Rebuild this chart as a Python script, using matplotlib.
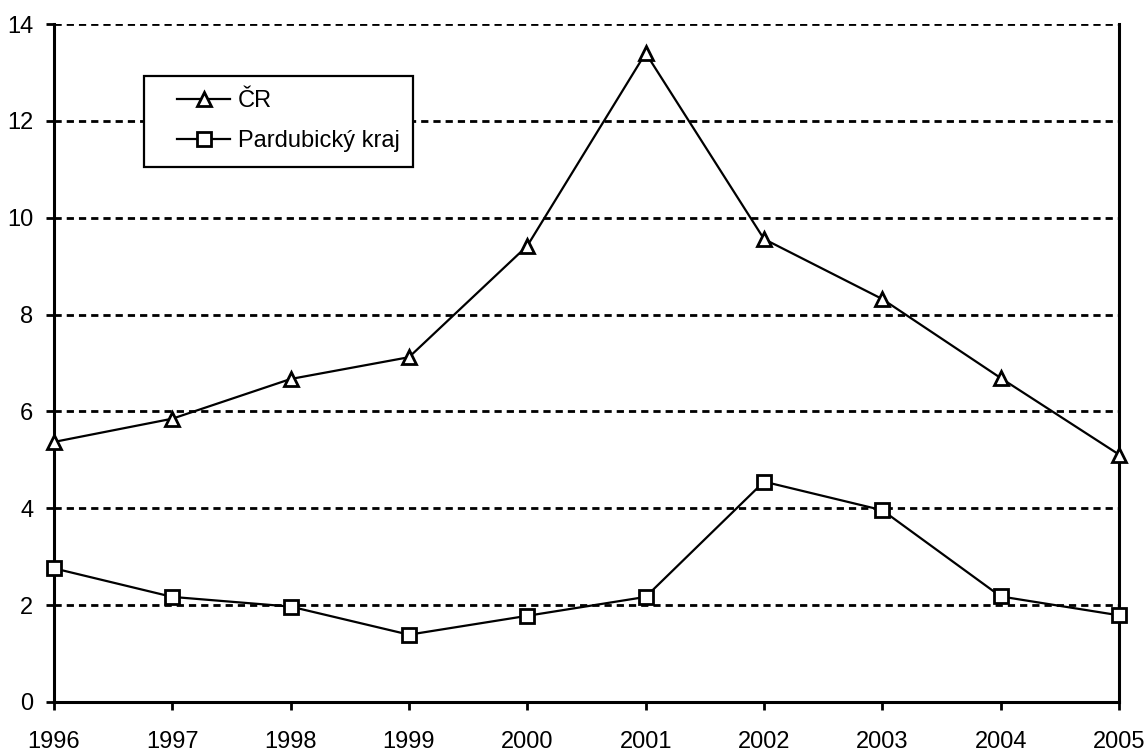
import matplotlib
matplotlib.use("Agg")
import matplotlib.pyplot as plt
from matplotlib import font_manager
from matplotlib.patches import Rectangle

years = [1996, 1997, 1998, 1999, 2000, 2001, 2002, 2003, 2004, 2005]
cr = [5.37, 5.85, 6.67, 7.12, 9.42, 13.40, 9.56, 8.32, 6.69, 5.11]
pardubicky = [2.76, 2.17, 1.97, 1.39, 1.78, 2.17, 4.55, 3.96, 2.18, 1.79]
series_labels = ["ČR", "Pardubický kraj"]
yticks = [0, 2, 4, 6, 8, 10, 12, 14]

names = {f.name for f in font_manager.fontManager.ttflist}
fam = "Liberation Sans Narrow" if "Liberation Sans Narrow" in names else "Liberation Sans"
plt.rcParams['font.family'] = [fam, 'DejaVu Sans']

W, H = 1148, 754
fig = plt.figure(figsize=(W / 100, H / 100), dpi=100)
ax = fig.add_axes([54 / W, 1 - 702 / H, (1119 - 54) / W, (702 - 24) / H])

for v in yticks[1:]:
    ax.axhline(v, color='black', lw=2, linestyle=(0, (2.6, 1.8)), zorder=1)

mk = dict(color='black', lw=1.6, markersize=10, markerfacecolor='white',
          markeredgecolor='black', markeredgewidth=2, clip_on=False, zorder=3)
ax.plot(years, cr, marker='^', label=series_labels[0], **mk)
ax.plot(years, pardubicky, marker='s', label=series_labels[1], **mk)

ax.set_xlim(years[0], years[-1])
ax.set_ylim(0, 14)
ax.set_xticks(years)
ax.set_yticks(yticks)
ax.tick_params(axis='both', labelsize=17, length=6, width=2, direction='out')
ax.tick_params(axis='x', pad=15)
ax.tick_params(axis='y', pad=9)
for s in ['left', 'right', 'bottom']:
    ax.spines[s].set_linewidth(2.2)
ax.spines['top'].set_visible(False)

# legend frame
frame = Rectangle((144 / W, 1 - 167 / H), 269 / W, 91 / H,
                  transform=fig.transFigure, facecolor='white',
                  edgecolor='black', lw=1.6, zorder=4, clip_on=False)
ax.add_patch(frame)
leg = ax.legend(loc='center left', bbox_to_anchor=(177 / W, 1 - 121 / H),
                bbox_transform=fig.transFigure, borderaxespad=0, borderpad=0,
                fontsize=17, frameon=False,
                handlelength=2.25, handletextpad=0.34, labelspacing=0.78)
leg.set_zorder(5)

fig.savefig("out.png", dpi=100)
